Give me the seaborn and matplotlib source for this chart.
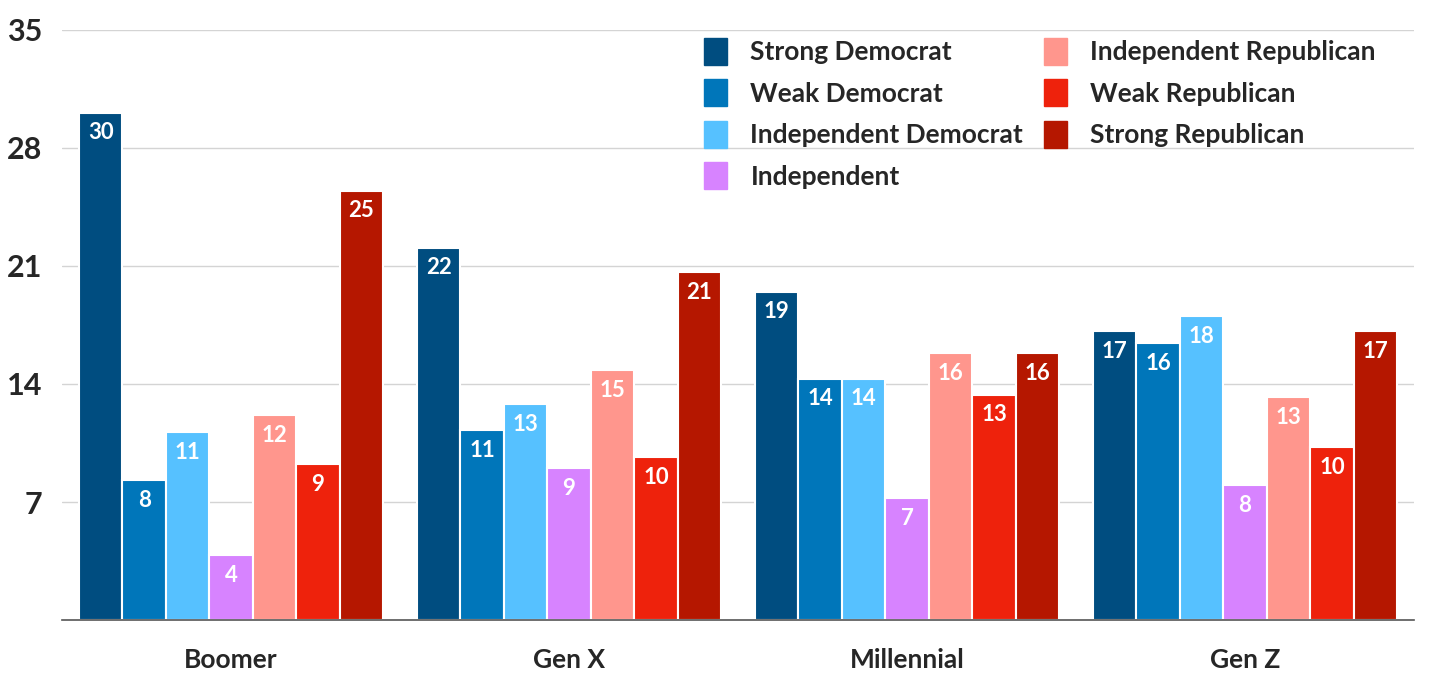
import numpy as np
import pandas as pd
import matplotlib
import matplotlib.pyplot as plt
import seaborn as sns
matplotlib.use('Agg')

generations = ['Boomer', 'Gen X', 'Millennial', 'Gen Z']
parties = ['Strong Democrat', 'Weak Democrat', 'Independent Democrat',
           'Independent', 'Independent Republican', 'Weak Republican',
           'Strong Republican']
colors = ['#004D80', '#0076BA', '#56C1FF', '#D783FF', '#FF968D', '#EE220C', '#B51700']

# share (%) per generation, order follows parties
boomer = [30.1, 8.3, 11.15, 3.86, 12.16, 9.25, 25.45]
gen_x = [22.07, 11.27, 12.81, 9.02, 14.83, 9.67, 20.64]
millennial = [19.46, 14.3, 14.3, 7.24, 15.84, 13.35, 15.84]
gen_z = [17.14, 16.43, 18.03, 8.0, 13.23, 10.26, 17.14]

rows = []
for gen, vals in zip(generations, [boomer, gen_x, millennial, gen_z]):
	for p, v in zip(parties, vals):
		rows.append({'gen': gen, 'party': p, 'pct': v})
df = pd.DataFrame(rows)

sns.set_style('white')
plt.rcParams['font.family'] = ['Lato', 'DejaVu Sans']

fig = plt.figure(figsize=(14.3, 6.83), dpi=100)
ax = fig.add_axes([0.0434, 0.0922, 0.9454, 0.864])

sns.barplot(data=df, x='gen', y='pct', hue='party', hue_order=parties,
            order=generations, palette=colors, width=0.9, saturation=1,
            edgecolor='white', linewidth=1.5, ax=ax, errorbar=None)

for cont in ax.containers:
	labs = [f'{round(b.get_height()):d}' for b in cont]
	ax.bar_label(cont, labels=labs, padding=-22, color='white',
	             fontsize=16, fontweight='bold')

ax.set_ylim(0, 35)
ax.set_xlim(-0.5, 3.5)
ax.set_yticks([7, 14, 21, 28, 35])
ax.yaxis.grid(True, color='#d4d4d4', linewidth=1)
ax.set_axisbelow(True)
for s in ['left', 'right', 'top']:
	ax.spines[s].set_visible(False)
ax.spines['bottom'].set_color('#555555')
ax.spines['bottom'].set_linewidth(1.2)
ax.tick_params(axis='y', length=0, pad=14, labelsize=22)
ax.tick_params(axis='x', length=0, pad=20, labelsize=19)
for t in ax.get_xticklabels() + ax.get_yticklabels():
	t.set_fontweight('bold')
ax.set_xlabel('')
ax.set_ylabel('')

ax.legend_.remove()
handles = [plt.Rectangle((0, 0), 1, 1, color=c) for c in colors]
leg = fig.legend(handles, parties, loc='upper left',
                 bbox_to_anchor=(0.4925, 0.945), ncol=2, frameon=False,
                 borderaxespad=0, borderpad=0, handlelength=0.85,
                 handleheight=1.2, handletextpad=0.9, labelspacing=0.55,
                 columnspacing=0.8, prop={'size': 19, 'weight': 'bold'})

fig.savefig('out.png', dpi=100)
